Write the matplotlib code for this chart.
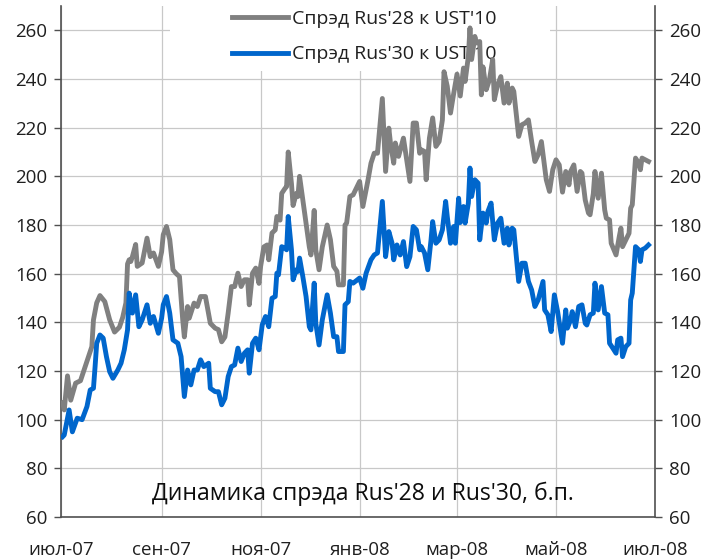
import matplotlib
matplotlib.use('Agg')
import matplotlib.pyplot as plt
import pandas as pd
from matplotlib.patches import Rectangle

plt.rcParams['font.family'] = ['Open Sans', 'DejaVu Sans']

# ---------------- data ----------------
rus28_dates = [
    '2007-07-02', '2007-07-03', '2007-07-05', '2007-07-07', '2007-07-10', '2007-07-13', '2007-07-16',
    '2007-07-19', '2007-07-20', '2007-07-21', '2007-07-23', '2007-07-25', '2007-07-28', '2007-07-31',
    '2007-08-03', '2007-08-06', '2007-08-08', '2007-08-10', '2007-08-11', '2007-08-12', '2007-08-13',
    '2007-08-14', '2007-08-16', '2007-08-17', '2007-08-20', '2007-08-23', '2007-08-25', '2007-08-27',
    '2007-08-30', '2007-09-01', '2007-09-02', '2007-09-04', '2007-09-06', '2007-09-08', '2007-09-10',
    '2007-09-12', '2007-09-14', '2007-09-15', '2007-09-17', '2007-09-18', '2007-09-21', '2007-09-23',
    '2007-09-25', '2007-09-28', '2007-10-01', '2007-10-04', '2007-10-06', '2007-10-08', '2007-10-10',
    '2007-10-12', '2007-10-14', '2007-10-16', '2007-10-18', '2007-10-20', '2007-10-22', '2007-10-24',
    '2007-10-25', '2007-10-27', '2007-10-29', '2007-10-31', '2007-11-01', '2007-11-03', '2007-11-05',
    '2007-11-06', '2007-11-08', '2007-11-10', '2007-11-11', '2007-11-13', '2007-11-14', '2007-11-16',
    '2007-11-17', '2007-11-18', '2007-11-20', '2007-11-21', '2007-11-23', '2007-11-24', '2007-11-25',
    '2007-11-27', '2007-11-29', '2007-12-01', '2007-12-02', '2007-12-04', '2007-12-05', '2007-12-07',
    '2007-12-09', '2007-12-12', '2007-12-14', '2007-12-16', '2007-12-18', '2007-12-19', '2007-12-22',
    '2007-12-23', '2007-12-24', '2007-12-26', '2007-12-28', '2008-01-01', '2008-01-03', '2008-01-06',
    '2008-01-08', '2008-01-10', '2008-01-12', '2008-01-15', '2008-01-17', '2008-01-19', '2008-01-20',
    '2008-01-22', '2008-01-23', '2008-01-25', '2008-01-28', '2008-01-30', '2008-02-01', '2008-02-03',
    '2008-02-05', '2008-02-07', '2008-02-08', '2008-02-10', '2008-02-11', '2008-02-13', '2008-02-15',
    '2008-02-17', '2008-02-19', '2008-02-21', '2008-02-22', '2008-02-24', '2008-02-26', '2008-02-28',
    '2008-03-01', '2008-03-03', '2008-03-05', '2008-03-06', '2008-03-08', '2008-03-09', '2008-03-10',
    '2008-03-12', '2008-03-13', '2008-03-15', '2008-03-16', '2008-03-17', '2008-03-19', '2008-03-21',
    '2008-03-23', '2008-03-24', '2008-03-26', '2008-03-28', '2008-03-30', '2008-04-01', '2008-04-02',
    '2008-04-04', '2008-04-05', '2008-04-08', '2008-04-10', '2008-04-12', '2008-04-14', '2008-04-16',
    '2008-04-18', '2008-04-20', '2008-04-22', '2008-04-24', '2008-04-25', '2008-04-27', '2008-04-29',
    '2008-05-01', '2008-05-03', '2008-05-05', '2008-05-07', '2008-05-09', '2008-05-10', '2008-05-12',
    '2008-05-14', '2008-05-16', '2008-05-17', '2008-05-19', '2008-05-21', '2008-05-22', '2008-05-24',
    '2008-05-25', '2008-05-27', '2008-05-29', '2008-05-31', '2008-06-01', '2008-06-03', '2008-06-04',
    '2008-06-07', '2008-06-09', '2008-06-10', '2008-06-11', '2008-06-13', '2008-06-15', '2008-06-16',
    '2008-06-17', '2008-06-19', '2008-06-21', '2008-06-22', '2008-06-23', '2008-06-25', '2008-06-27',
]
rus28_values = [
    107, 104, 118, 108, 115, 116, 122,
    128, 130, 141, 148, 151, 148.5, 141,
    136, 138, 142, 148, 164, 165.7, 165,
    167, 172, 163, 164.4, 174.6, 167, 168.5,
    163, 169, 176, 179.4, 174, 161.6, 160,
    158.8, 141, 134, 146.5, 141.7, 147.9, 146.5,
    150.6, 150.6, 139.6, 137.6, 137, 132, 134,
    143.8, 154.7, 154.7, 160.2, 154.7, 157.5, 157.5,
    147.2, 160.2, 162.3, 156, 163, 171, 171.8,
    165.7, 176.7, 178, 183.5, 182, 193, 195,
    195.8, 210, 197, 188, 193, 191.7, 200,
    190.3, 180.8, 171, 167.7, 186, 169.8, 161.6,
    171, 180, 174, 163, 161, 155.4, 155.4,
    180, 180.8, 191.7, 192.4, 197.9, 187.6, 197.9,
    205.4, 209.5, 209.5, 232, 202, 219.8, 213.7,
    205.4, 213.7, 208.2, 215.7, 206.8, 197.9, 221.9,
    221.9, 209.5, 210.9, 210.2, 198.6, 215.7, 224,
    212.3, 214.3, 223.2, 243, 237, 226, 234.2,
    242, 233, 244.5, 239, 249.3, 261, 248,
    257.5, 254.8, 255.4, 233.5, 245, 235.6, 239.7,
    248, 231.5, 237.6, 241, 230.1, 238.3, 230.1,
    236.3, 234.9, 216.4, 221.2, 221.9, 223.2, 214.3,
    206.1, 208.9, 214.3, 204, 198.6, 193.8, 202.7,
    206.8, 204.7, 193.5, 202, 196.5, 202, 204.7,
    193.8, 202, 201.3, 190.3, 184.9, 184.2, 193,
    202, 191, 201.3, 186.2, 182.8, 182.1, 172.5,
    167.7, 175.3, 178.7, 171.1, 173.9, 176.6, 186.9,
    188.3, 207.5, 205.4, 202.7, 207.5, 206.8, 206.1,
]

rus30_dates = [
    '2007-07-02', '2007-07-03', '2007-07-06', '2007-07-08', '2007-07-11', '2007-07-14', '2007-07-17',
    '2007-07-19', '2007-07-21', '2007-07-22', '2007-07-23', '2007-07-25', '2007-07-27', '2007-07-29',
    '2007-07-31', '2007-08-02', '2007-08-05', '2007-08-07', '2007-08-09', '2007-08-11', '2007-08-12',
    '2007-08-14', '2007-08-16', '2007-08-18', '2007-08-20', '2007-08-23', '2007-08-25', '2007-08-27',
    '2007-08-30', '2007-09-01', '2007-09-02', '2007-09-04', '2007-09-06', '2007-09-08', '2007-09-11',
    '2007-09-13', '2007-09-15', '2007-09-17', '2007-09-19', '2007-09-21', '2007-09-23', '2007-09-25',
    '2007-09-27', '2007-09-30', '2007-10-01', '2007-10-04', '2007-10-06', '2007-10-08', '2007-10-10',
    '2007-10-12', '2007-10-14', '2007-10-16', '2007-10-18', '2007-10-20', '2007-10-22', '2007-10-24',
    '2007-10-25', '2007-10-27', '2007-10-29', '2007-10-31', '2007-11-02', '2007-11-04', '2007-11-06',
    '2007-11-08', '2007-11-10', '2007-11-11', '2007-11-12', '2007-11-14', '2007-11-16', '2007-11-17',
    '2007-11-18', '2007-11-20', '2007-11-21', '2007-11-23', '2007-11-24', '2007-11-25', '2007-11-27',
    '2007-11-29', '2007-12-01', '2007-12-02', '2007-12-04', '2007-12-05', '2007-12-07', '2007-12-09',
    '2007-12-12', '2007-12-14', '2007-12-16', '2007-12-18', '2007-12-19', '2007-12-22', '2007-12-23',
    '2007-12-25', '2007-12-26', '2007-12-28', '2008-01-01', '2008-01-03', '2008-01-05', '2008-01-08',
    '2008-01-10', '2008-01-12', '2008-01-15', '2008-01-17', '2008-01-19', '2008-01-21', '2008-01-22',
    '2008-01-24', '2008-01-26', '2008-01-28', '2008-01-30', '2008-02-01', '2008-02-03', '2008-02-05',
    '2008-02-07', '2008-02-08', '2008-02-10', '2008-02-12', '2008-02-14', '2008-02-15', '2008-02-17',
    '2008-02-19', '2008-02-21', '2008-02-23', '2008-02-24', '2008-02-26', '2008-02-28', '2008-02-29',
    '2008-03-02', '2008-03-03', '2008-03-05', '2008-03-06', '2008-03-08', '2008-03-09', '2008-03-10',
    '2008-03-12', '2008-03-14', '2008-03-15', '2008-03-17', '2008-03-19', '2008-03-20', '2008-03-22',
    '2008-03-24', '2008-03-26', '2008-03-28', '2008-03-30', '2008-04-01', '2008-04-02', '2008-04-04',
    '2008-04-05', '2008-04-08', '2008-04-10', '2008-04-12', '2008-04-14', '2008-04-16', '2008-04-18',
    '2008-04-20', '2008-04-23', '2008-04-24', '2008-04-26', '2008-04-28', '2008-04-30', '2008-05-02',
    '2008-05-05', '2008-05-07', '2008-05-08', '2008-05-10', '2008-05-11', '2008-05-13', '2008-05-15',
    '2008-05-17', '2008-05-19', '2008-05-20', '2008-05-22', '2008-05-24', '2008-05-25', '2008-05-27',
    '2008-05-29', '2008-05-31', '2008-06-02', '2008-06-03', '2008-06-05', '2008-06-07', '2008-06-08',
    '2008-06-10', '2008-06-11', '2008-06-13', '2008-06-15', '2008-06-16', '2008-06-17', '2008-06-19',
    '2008-06-21', '2008-06-22', '2008-06-23', '2008-06-25', '2008-06-27',
]
rus30_values = [
    93, 93.7, 104, 95, 100.6, 100, 105.4,
    112.2, 112.9, 121.8, 131.4, 134.8, 133.5, 125.9,
    119.7, 117, 120.4, 123.2, 128.7, 136.9, 152,
    143.8, 151.3, 138.2, 141, 147.2, 139.6, 142.4,
    135.5, 141.7, 147.2, 150.6, 143.8, 132.8, 131.4,
    125.9, 109.5, 120.4, 114.3, 120.4, 120.4, 124.6,
    121.8, 123.2, 112.9, 111.5, 111.5, 106.1, 108.8,
    117.7, 121.8, 122.5, 129.4, 123.9, 127.3, 128.7,
    119.1, 131.4, 133.5, 128.7, 139, 142.4, 138.2,
    149.9, 150.6, 160.2, 159.5, 171.1, 170.5, 169.8,
    183.5, 169.8, 157.5, 161.6, 160.9, 166.4, 158.8,
    150.6, 138.2, 136.9, 156.1, 139.6, 130.7, 141,
    151.3, 143.8, 134.1, 134.1, 128, 128, 147.2,
    148.5, 156.8, 156.1, 158.2, 154, 160.2, 165.7,
    167.7, 168.5, 189.7, 167, 177.3, 172.5, 165.7,
    171.8, 167.7, 173.2, 162.9, 167, 179.4, 178,
    169.8, 171.1, 168.5, 161.6, 173.9, 181.4, 172.5,
    173.9, 178, 189.7, 183.5, 172.5, 179.4, 172.5,
    191, 181, 187.6, 180.8, 189, 203.4, 191.7,
    198.6, 197.2, 173.9, 184.9, 180.8, 185.5, 189,
    173.9, 180.8, 182.8, 172.5, 178.7, 171.8, 178.7,
    178, 156.8, 164.3, 164.3, 156.8, 153.3, 146.5,
    149.2, 156.8, 145.1, 143.1, 136.2, 151.3, 144.4,
    131.4, 145.1, 137.6, 141, 144.4, 138.2, 146.5,
    147.2, 139.6, 138.9, 143.1, 143.8, 156.1, 145.1,
    154.7, 143.8, 143.1, 131.4, 129.4, 127.3, 132.8,
    133.5, 125.9, 130, 131.4, 149.2, 152, 171.1,
    169.8, 165, 169.8, 170.5, 171.8,
]

series_labels = ["Спрэд Rus'28 к UST'10", "Спрэд Rus'30 к UST'10"]
chart_title = "Динамика спрэда Rus'28 и Rus'30, б.п."
x_tick_dates = ['2007-07-01', '2007-09-01', '2007-11-01', '2008-01-01',
                '2008-03-01', '2008-05-01', '2008-07-01']
x_tick_labels = ['июл-07', 'сен-07', 'ноя-07', 'янв-08', 'мар-08', 'май-08', 'июл-08']
y_ticks = [60, 80, 100, 120, 140, 160, 180, 200, 220, 240, 260]

# ---------------- figure ----------------
W, H = 707, 559
fig = plt.figure(figsize=(W / 100, H / 100), dpi=100)
ax = fig.add_axes([61 / W, 1 - 517 / H, 594 / W, 511 / H])

GRAY = '#808080'
BLUE = '#0066CC'
SPINE = '#505050'
TEXT = '#1f1f1f'

ax.plot(pd.to_datetime(rus28_dates), rus28_values, color=GRAY, lw=3.5,
        solid_joinstyle='round', label=series_labels[0], zorder=4)
ax.plot(pd.to_datetime(rus30_dates), rus30_values, color=BLUE, lw=3.5,
        solid_joinstyle='round', label=series_labels[1], zorder=4)

ax.set_xlim(pd.Timestamp('2007-07-01'), pd.Timestamp('2008-07-01'))
ax.set_ylim(60, 270)
ax.set_xticks(pd.to_datetime(x_tick_dates))
ax.set_xticklabels(x_tick_labels)
ax.set_yticks(y_ticks)

ax.grid(True, color='#c8c8c8', lw=0.9, zorder=0)
ax.set_axisbelow(True)

# white area behind legend (hides gridlines)
ax.add_patch(Rectangle((0.1835, 0.873), 0.64, 0.2, transform=ax.transAxes,
                       facecolor='white', edgecolor='none', zorder=2, clip_on=True))

for side in ['left', 'right', 'bottom']:
    ax.spines[side].set_color(SPINE)
    ax.spines[side].set_linewidth(1.2)
ax.spines['top'].set_visible(False)

ax.tick_params(axis='y', which='both', left=True, right=True, labelleft=True, labelright=True,
               direction='out', length=5, width=1, color=SPINE, pad=5,
               labelsize=13.5, labelcolor=TEXT)
ax.tick_params(axis='x', length=0, pad=17, labelsize=13.5, labelcolor=TEXT)

leg = ax.legend(loc='upper left', bbox_to_anchor=((232 - 61) / 594, 0.993), frameon=False,
                fontsize=14, handlelength=2.9, handletextpad=0.16, labelspacing=0.92,
                borderaxespad=0, borderpad=0)
leg.set_zorder(3)
for t in leg.get_texts():
    t.set_color(TEXT)
for l in leg.get_lines():
    l.set_linewidth(3.5)

ax.text((362.5 - 61) / 594, (517 - 494) / 511, chart_title, transform=ax.transAxes,
        ha='center', va='center', fontsize=16.6, color='#0d0d0d', zorder=5)

fig.savefig('out.png', dpi=100, facecolor='white')
